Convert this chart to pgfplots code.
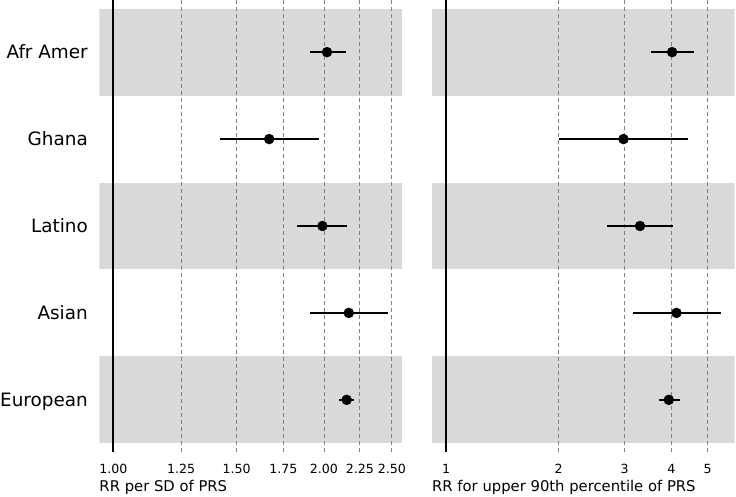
\documentclass[border=0pt]{standalone}
\usepackage{fontspec}
\setmainfont{DejaVu Sans}
\usepackage{pgfplots}
\usepackage{pgfplotstable}
\pgfplotsset{compat=1.18}
\definecolor{band}{RGB}{217,217,217}
\definecolor{gridc}{RGB}{128,128,128}

% rows: 5 Afr Amer, 4 Ghana, 3 Latino, 2 Asian, 1 European
\pgfplotstableread{
row est lo hi
5 2.020 1.91 2.15
4 1.670 1.42 1.97
3 1.990 1.83 2.16
2 2.170 1.91 2.47
1 2.155 2.10 2.21
}\sdtab
\pgfplotstableread{
row est lo hi
5 4.02 3.52 4.59
4 2.98 2.00 4.44
3 3.30 2.70 4.05
2 4.13 3.16 5.42
1 3.94 3.71 4.21
}\pcttab

\pgfplotsset{
  rrpanel/.style={
    scale only axis, width=302.7pt, height=452pt,
    ymin=0.4, ymax=5.6,
    axis line style={draw=none}, major tick length=0pt,
    xticklabel style={font=\fontsize{12.6}{15}\selectfont, anchor=base, inner sep=0pt, yshift=-21.3pt},
    xlabel style={font=\fontsize{14.8}{17}\selectfont, at={(axis description cs:0,0)},
      anchor=base west, inner sep=0pt, yshift=-39.7pt},
  },
  bandfill/.style={fill=band, draw=none},
  gridline/.style={gridc, line width=0.7pt, dash pattern=on 4pt off 3pt},
  ciplot/.style={only marks, mark=*, mark size=5pt, black},
}

\begin{document}
\begin{tikzpicture}
\path[use as bounding box] (0,0) rectangle (736pt,497pt);

\begin{axis}[rrpanel, xmode=log, at={(99.3pt,45pt)}, anchor=south west,
  xmin=0.955, xmax=2.585,
  xtick={1,1.25,1.5,1.75,2,2.25,2.5},
  xticklabels={1.00,1.25,1.50,1.75,2.00,2.25,2.50},
  ytick={1,...,5}, yticklabels={European,Asian,Latino,Ghana,Afr Amer},
  yticklabel style={font=\fontsize{18.4}{22}\selectfont, anchor=base east,
    inner sep=0pt, xshift=-11.3pt, yshift=-6.7pt},
  xlabel={RR per SD of PRS}]
\addplot[bandfill] coordinates {(0.955,4.5) (2.585,4.5) (2.585,5.5) (0.955,5.5)};
\addplot[bandfill] coordinates {(0.955,2.5) (2.585,2.5) (2.585,3.5) (0.955,3.5)};
\addplot[bandfill] coordinates {(0.955,0.5) (2.585,0.5) (2.585,1.5) (0.955,1.5)};
\addplot[gridline] coordinates {(1.25,0.4) (1.25,5.6)};
\addplot[gridline] coordinates {(1.5,0.4) (1.5,5.6)};
\addplot[gridline] coordinates {(1.75,0.4) (1.75,5.6)};
\addplot[gridline] coordinates {(2,0.4) (2,5.6)};
\addplot[gridline] coordinates {(2.25,0.4) (2.25,5.6)};
\addplot[gridline] coordinates {(2.5,0.4) (2.5,5.6)};
\addplot[black, line width=1.7pt] coordinates {(1,0.4) (1,5.6)};
\addplot[ciplot, error bars/.cd, x dir=both, x explicit, error mark=none,
  error bar style={line width=2.3pt, black}]
  table[x=est, y=row,
  x error plus expr=\thisrow{hi}-\thisrow{est},
  x error minus expr=\thisrow{est}-\thisrow{lo}] {\sdtab};
\end{axis}

\begin{axis}[rrpanel, xmode=log, at={(432pt,45pt)}, anchor=south west,
  xmin=0.917, xmax=5.91,
  xtick={1,2,3,4,5}, xticklabels={1,2,3,4,5},
  ytick=\empty,
  xlabel={RR for upper 90th percentile of PRS}]
\addplot[bandfill] coordinates {(0.917,4.5) (5.91,4.5) (5.91,5.5) (0.917,5.5)};
\addplot[bandfill] coordinates {(0.917,2.5) (5.91,2.5) (5.91,3.5) (0.917,3.5)};
\addplot[bandfill] coordinates {(0.917,0.5) (5.91,0.5) (5.91,1.5) (0.917,1.5)};
\addplot[gridline] coordinates {(2,0.4) (2,5.6)};
\addplot[gridline] coordinates {(3,0.4) (3,5.6)};
\addplot[gridline] coordinates {(4,0.4) (4,5.6)};
\addplot[gridline] coordinates {(5,0.4) (5,5.6)};
\addplot[black, line width=1.7pt] coordinates {(1,0.4) (1,5.6)};
\addplot[ciplot, error bars/.cd, x dir=both, x explicit, error mark=none,
  error bar style={line width=2.3pt, black}]
  table[x=est, y=row,
  x error plus expr=\thisrow{hi}-\thisrow{est},
  x error minus expr=\thisrow{est}-\thisrow{lo}] {\pcttab};
\end{axis}
\end{tikzpicture}
\end{document}
